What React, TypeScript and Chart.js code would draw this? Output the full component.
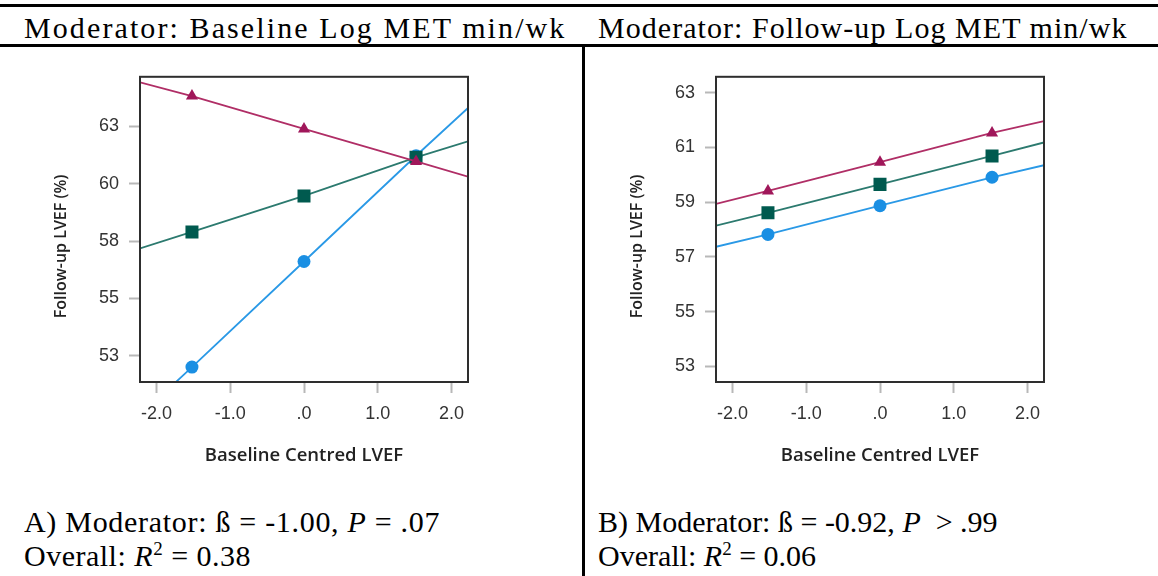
import React, { useEffect, useRef } from "react";
import { Chart, registerables } from "chart.js";

Chart.register(...registerables);

// ---------- shared x axis ----------
const xPoints = [-1.52, 0, 1.52];
const xLimits = [-2.225, 2.225];
const xTickValues = [-2, -1, 0, 1, 2];
const xTickLabels = ["-2.0", "-1.0", ".0", "1.0", "2.0"];

// ---------- panel A (baseline moderator) ----------
const yTicksA = [52.5, 55, 57.5, 60, 62.5];
const yTickLabelsA = ["53", "55", "58", "60", "63"];
const yRangeA = [51.36, 64.66];
const highA = [63.82, 62.39, 60.97];
const highEdgesA = [64.42, 60.31];
const meanA = [57.9, 59.47, 61.15];
const meanEdgesA = [57.18, 61.85];
const lowA = [52.01, 56.61, 61.22];
const lowEdgesA = [49.9, 63.3];

// ---------- panel B (follow-up moderator) ----------
const yTicksB = [53, 55, 57, 59, 61, 63];
const yTickLabelsB = ["53", "55", "57", "59", "61", "63"];
const yRangeB = [52.43, 63.58];
const highB = [59.41, 60.46, 61.53];
const highEdgesB = [58.94, 61.96];
const meanB = [58.61, 59.65, 60.69];
const meanEdgesB = [58.14, 61.18];
const lowB = [57.82, 58.87, 59.91];
const lowEdgesB = [57.37, 60.35];

const xTitle = "Baseline Centred LVEF";
const yTitle = "Follow-up LVEF (%)";

const COLORS = {
  high: { line: "#b02e66", point: "#a0175a" },
  mean: { line: "#2c7a6f", point: "#005a4f" },
  low: { line: "#2a99e6", point: "#1a8fe3" },
};

function buildSeries(points: number[], edges: number[]) {
  return [
    { x: xLimits[0], y: edges[0] },
    ...points.map((y, i) => ({ x: xPoints[i], y })),
    { x: xLimits[1], y: edges[1] },
  ];
}

function labelFor(values: number[], labels: string[], v: number) {
  const i = values.findIndex((t) => Math.abs(t - v) < 1e-6);
  return i >= 0 ? labels[i] : "";
}

const boxPlugin = {
  id: "plotBox",
  afterDatasetsDraw(chart: any) {
    const { ctx, chartArea } = chart;
    const { left, top, right, bottom } = chartArea;
    ctx.save();
    ctx.strokeStyle = "#2e2e2e";
    ctx.lineWidth = 2;
    ctx.strokeRect(left, top, right - left, bottom - top);
    ctx.restore();
  },
};

// y-axis title, drawn a little below the plot's centre as in the source figure
const yTitlePlugin = {
  id: "yTitleLow",
  afterDraw(chart: any) {
    const { ctx, chartArea } = chart;
    const cy = (chartArea.top + chartArea.bottom) / 2 + 17;
    ctx.save();
    ctx.translate(21.5, cy);
    ctx.rotate(-Math.PI / 2);
    ctx.font = "600 16px 'Open Sans', sans-serif";
    ctx.fillStyle = "#222";
    ctx.textAlign = "center";
    ctx.textBaseline = "middle";
    ctx.fillText(yTitle, 0, 0);
    ctx.restore();
  },
};

type PanelProps = {
  yTicks: number[];
  yTickLabels: string[];
  yRange: number[];
  high: number[];
  highEdges: number[];
  mean: number[];
  meanEdges: number[];
  low: number[];
  lowEdges: number[];
};

function Panel(p: PanelProps) {
  const ref = useRef<HTMLCanvasElement | null>(null);
  useEffect(() => {
    if (!ref.current) return;
    const mk = (
      label: string,
      pts: number[],
      edges: number[],
      c: { line: string; point: string },
      style: string,
      r: number
    ) => ({
      label,
      data: buildSeries(pts, edges),
      showLine: true,
      borderColor: c.line,
      borderWidth: 1.8,
      pointStyle: style,
      pointRadius: [0, r, r, r, 0],
      pointHoverRadius: 0,
      pointBackgroundColor: c.point,
      pointBorderColor: c.point,
      pointBorderWidth: 0,
    });
    const tickFont = { family: "'Liberation Sans', Arial, sans-serif", size: 18 };
    const chart = new Chart(ref.current, {
      type: "scatter",
      data: {
        datasets: [
          mk("High", p.high, p.highEdges, COLORS.high, "triangle", 7),
          mk("Mean", p.mean, p.meanEdges, COLORS.mean, "rect", 9.2),
          mk("Low", p.low, p.lowEdges, COLORS.low, "circle", 6.5),
        ] as any,
      },
      options: {
        animation: false,
        responsive: false,
        devicePixelRatio: 1,
        events: [],
        layout: { padding: { top: 10, right: 12, left: 0, bottom: 0 } },
        plugins: {
          legend: { display: false },
          tooltip: { enabled: false },
        },
        scales: {
          x: {
            type: "linear",
            min: xLimits[0],
            max: xLimits[1],
            afterBuildTicks: (s: any) => {
              s.ticks = xTickValues.map((v) => ({ value: v }));
            },
            afterFit: (s: any) => {
              s.height = 94;
            },
            ticks: {
              callback: (v: any) => labelFor(xTickValues, xTickLabels, Number(v)),
              font: tickFont,
              color: "#333",
              padding: 10,
              autoSkip: false,
              maxRotation: 0,
            },
            grid: {
              drawOnChartArea: false,
              drawTicks: true,
              tickLength: 11,
              tickColor: "#b8b8b8",
              tickWidth: 2,
            },
            border: { display: false },
            title: {
              display: true,
              text: xTitle,
              color: "#222",
              font: { family: "'Open Sans', sans-serif", size: 18.5, weight: "600" },
              padding: { top: 0, bottom: 9 },
            },
          },
          y: {
            type: "linear",
            min: p.yRange[0],
            max: p.yRange[1],
            afterBuildTicks: (s: any) => {
              s.ticks = p.yTicks.map((v) => ({ value: v }));
            },
            afterFit: (s: any) => {
              s.width = 100;
            },
            ticks: {
              callback: (v: any) => labelFor(p.yTicks, p.yTickLabels, Number(v)),
              font: tickFont,
              color: "#333",
              padding: 10,
              autoSkip: false,
            },
            grid: {
              drawOnChartArea: false,
              drawTicks: true,
              tickLength: 11,
              tickColor: "#b8b8b8",
              tickWidth: 2,
            },
            border: { display: false },
            title: { display: false, text: yTitle },
          },
        },
      } as any,
      plugins: [boxPlugin, yTitlePlugin],
    });
    return () => chart.destroy();
  }, []);
  return <canvas ref={ref} width={440} height={420} style={{ width: 440, height: 420, display: "block" }} />;
}

const serif = "'Liberation Serif', 'Times New Roman', Times, serif";

export default function App() {
  return (
    <div
      style={{
        position: "absolute",
        left: 0,
        top: 0,
        width: 1158,
        height: 576,
        background: "#fff",
        overflow: "hidden",
        fontFamily: serif,
        color: "#000",
      }}
    >
      {/* rules */}
      <div style={{ position: "absolute", left: 0, top: 4, width: 1158, height: 3, background: "#000" }} />
      <div style={{ position: "absolute", left: 0, top: 44, width: 1158, height: 3, background: "#000" }} />
      <div style={{ position: "absolute", left: 582, top: 47, width: 3, height: 529, background: "#000" }} />

      {/* headings */}
      <div style={{ position: "absolute", left: 24, top: 13, fontSize: 30, lineHeight: "30px", letterSpacing: "2.1px", whiteSpace: "nowrap" }}>
        Moderator: Baseline Log MET min/wk
      </div>
      <div style={{ position: "absolute", left: 598, top: 13, fontSize: 30, lineHeight: "30px", letterSpacing: "1.05px", whiteSpace: "nowrap" }}>
        Moderator: Follow-up Log MET min/wk
      </div>

      {/* charts */}
      <div style={{ position: "absolute", left: 40, top: 56 }}>
        <Panel
          yTicks={yTicksA}
          yTickLabels={yTickLabelsA}
          yRange={yRangeA}
          high={highA}
          highEdges={highEdgesA}
          mean={meanA}
          meanEdges={meanEdgesA}
          low={lowA}
          lowEdges={lowEdgesA}
        />
      </div>
      <div style={{ position: "absolute", left: 616, top: 56 }}>
        <Panel
          yTicks={yTicksB}
          yTickLabels={yTickLabelsB}
          yRange={yRangeB}
          high={highB}
          highEdges={highEdgesB}
          mean={meanB}
          meanEdges={meanEdgesB}
          low={lowB}
          lowEdges={lowEdgesB}
        />
      </div>

      {/* captions */}
      <div style={{ position: "absolute", left: 24, top: 505, fontSize: 30, lineHeight: "34px", whiteSpace: "nowrap" }}>
        <div style={{ letterSpacing: "0.7px" }}>
          A) Moderator: ß = -1.00, <i>P</i> = .07
        </div>
        <div style={{ letterSpacing: "0.5px" }}>
          Overall: <i>R</i>
          <sup style={{ fontSize: 19, lineHeight: 0 }}>2</sup> = 0.38
        </div>
      </div>
      <div style={{ position: "absolute", left: 598, top: 505, fontSize: 30, lineHeight: "34px", whiteSpace: "nowrap" }}>
        <div>
          B) Moderator: ß = -0.92, <i>P</i>&nbsp; &gt; .99
        </div>
        <div>
          Overall: <i>R</i>
          <sup style={{ fontSize: 19, lineHeight: 0 }}>2</sup> = 0.06
        </div>
      </div>
    </div>
  );
}
